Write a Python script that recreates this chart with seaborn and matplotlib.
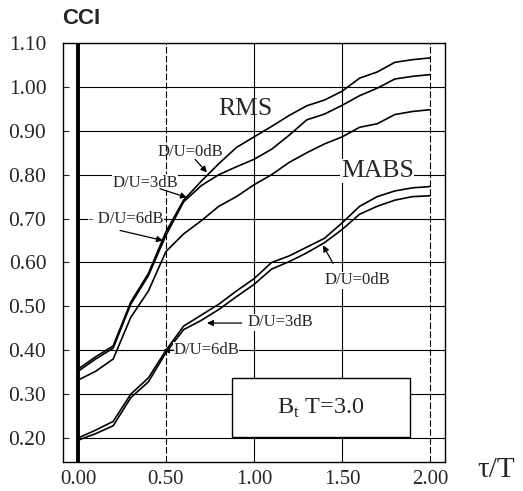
import numpy as np
import pandas as pd
import matplotlib
matplotlib.use("Agg")
import matplotlib.pyplot as plt
import seaborn as sns
from matplotlib.patches import Rectangle

# ---- data ----
tau = [0.0, 0.1, 0.2, 0.3, 0.4, 0.5, 0.6, 0.7, 0.8, 0.9, 1.0,
       1.1, 1.2, 1.3, 1.4, 1.5, 1.6, 1.7, 1.8, 1.9, 2.0]
rms_0db = [0.357, 0.385, 0.410, 0.510, 0.575, 0.670, 0.742, 0.785, 0.825, 0.862, 0.886,
           0.910, 0.935, 0.957, 0.970, 0.990, 1.020, 1.034, 1.056, 1.062, 1.066]
rms_3db = [0.352, 0.380, 0.405, 0.505, 0.570, 0.662, 0.738, 0.775, 0.800, 0.818, 0.835,
           0.858, 0.890, 0.925, 0.938, 0.958, 0.980, 0.997, 1.018, 1.024, 1.028]
rms_6db = [0.332, 0.352, 0.380, 0.475, 0.535, 0.625, 0.665, 0.695, 0.728, 0.750, 0.777,
           0.800, 0.828, 0.850, 0.870, 0.886, 0.908, 0.916, 0.937, 0.944, 0.948]
mabs_0db = [0.200, 0.218, 0.238, 0.300, 0.337, 0.400, 0.455, 0.480, 0.505, 0.535, 0.563,
            0.600, 0.615, 0.635, 0.655, 0.690, 0.728, 0.750, 0.763, 0.770, 0.773]
mabs_3db = [0.195, 0.210, 0.228, 0.292, 0.328, 0.395, 0.447, 0.468, 0.493, 0.522, 0.550,
            0.585, 0.602, 0.622, 0.645, 0.675, 0.710, 0.728, 0.742, 0.750, 0.752]

x_ticks = [0.0, 0.5, 1.0, 1.5, 2.0]
x_labels = ["0.00", "0.50", "1.00", "1.50", "2.00"]
y_ticks = [0.2, 0.3, 0.4, 0.5, 0.6, 0.7, 0.8, 0.9, 1.0, 1.1]
y_labels = ["0.20", "0.30", "0.40", "0.50", "0.60", "0.70", "0.80", "0.90", "1.00", "1.10"]

series = {
    "RMS D/U=0dB": rms_0db,
    "RMS D/U=3dB": rms_3db,
    "RMS D/U=6dB": rms_6db,
    "MABS D/U=0dB": mabs_0db,
    "MABS D/U=3dB": mabs_3db,
}
df = pd.concat([pd.DataFrame({"tau": tau, "cci": v, "series": k}) for k, v in series.items()],
               ignore_index=True)

sns.set_style("ticks")
plt.rcParams['font.family'] = ['Liberation Serif', 'DejaVu Serif']
plt.rcParams['axes.edgecolor'] = 'black'

fig = plt.figure(figsize=(5.23, 4.91), dpi=100)
ax = fig.add_axes([63/523, 1 - 462/491, (445 - 63)/523, (462 - 43)/491])

xlim = (-0.085, 2.085)
ylim = (0.1455, 1.0977)

# grid
ax.hlines(y_ticks, 0.0, xlim[1], color='black', lw=0.8, zorder=1)
for xv in x_ticks[1:]:
    ls = (0, (6, 2)) if xv in (0.5, 2.0) else '-'
    ax.axvline(xv, color='black', lw=0.8, ls=ls, zorder=1)
ax.axvline(0.0, color='black', lw=2.8, zorder=3)

sns.lineplot(data=df, x="tau", y="cci", units="series", estimator=None,
             color='black', lw=1.2, ax=ax, legend=False, zorder=2)

ax.set_xlim(*xlim)
ax.set_ylim(*ylim)
ax.set_xticks(x_ticks)
ax.set_xticklabels(x_labels)
ax.set_yticks(y_ticks)
ax.set_yticklabels(y_labels)
ax.tick_params(axis='x', length=0, pad=6, labelsize=15)
ax.tick_params(axis='y', direction='in', length=4, width=0.8, pad=12, labelsize=15.5)
ax.set_xlabel("")
ax.set_ylabel("")
for s in ax.spines.values():
    s.set_visible(True)
    s.set_linewidth(1.0)

# labels
fig.text(81/523, 1 - 18/491, "CCI", family=['Liberation Sans', 'DejaVu Sans'],
         fontsize=16, fontweight='bold', ha='center', va='center')
fig.text(496/523, 1 - 470/491, "τ/T", fontsize=21, ha='center', va='center')

ax.text(0.95, 0.95, "RMS", fontsize=18.5, ha='center', va='center')
ax.text(1.70, 0.809, "MABS", fontsize=18.5, ha='center', va='center',
        bbox=dict(facecolor='white', edgecolor='none', pad=0.5))

arrow = dict(arrowstyle='-|>', color='black', lw=0.9, mutation_scale=9,
             shrinkA=0, shrinkB=0)
fs = 12
ax.text(0.636, 0.852, "D/U=0dB", fontsize=fs, ha='center', va='center')
ax.annotate("", xy=(0.733, 0.805), xytext=(0.665, 0.835), arrowprops=arrow)
ax.text(0.38, 0.782, "D/U=3dB", fontsize=fs, ha='center', va='center',
        bbox=dict(facecolor='white', edgecolor='none', pad=0.3))
ax.annotate("", xy=(0.619, 0.748), xytext=(0.466, 0.768), arrowprops=arrow)
ax.text(0.273, 0.700, "- D/U=6dB", fontsize=fs, ha='center', va='center',
        bbox=dict(facecolor='white', edgecolor='none', pad=0.3))
ax.annotate("", xy=(0.483, 0.650), xytext=(0.239, 0.673), arrowprops=arrow)

ax.text(1.585, 0.559, "D/U=0dB", fontsize=fs, ha='center', va='center',
        bbox=dict(facecolor='white', edgecolor='none', pad=0.3))
ax.annotate("", xy=(1.392, 0.639), xytext=(1.449, 0.598), arrowprops=arrow)
ax.text(0.966, 0.464, "D/U=3dB", fontsize=fs, ha='left', va='center',
        bbox=dict(facecolor='white', edgecolor='none', pad=0.3))
ax.annotate("", xy=(0.733, 0.462), xytext=(0.93, 0.462), arrowprops=arrow)
ax.text(0.54, 0.400, "D/U=6dB", fontsize=fs, ha='left', va='center',
        bbox=dict(facecolor='white', edgecolor='none', pad=0.3))
ax.annotate("", xy=(0.483, 0.400), xytext=(0.545, 0.400), arrowprops=arrow)

ax.add_patch(Rectangle((0.875, 0.202), 1.886 - 0.875, 0.336 - 0.202,
                       facecolor='white', edgecolor='black', lw=1.0, zorder=4))
ax.text(1.38, 0.268, r"B$_{\mathregular{t}}$ T=3.0", fontsize=17.5,
        ha='center', va='center', zorder=5)

fig.savefig("out.png", dpi=100)
